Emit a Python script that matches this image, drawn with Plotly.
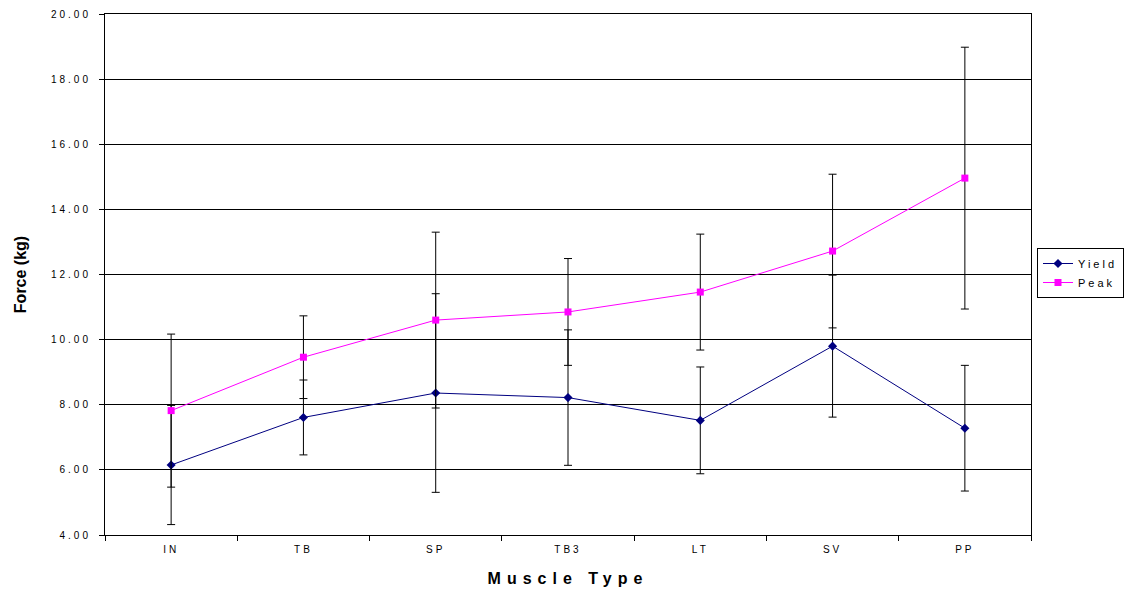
import plotly.graph_objects as go

# Muscle categories and measured forces (kg)
muscles = ["IN", "TB", "SP", "TB3", "LT", "SV", "PP"]
yield_force = [6.15, 7.61, 8.36, 8.22, 7.52, 9.80, 7.28]
yield_err = [1.83, 1.15, 3.05, 2.08, 1.64, 2.18, 1.93]
peak_force = [7.82, 9.46, 10.60, 10.85, 11.46, 12.72, 14.96]
peak_err = [2.35, 1.27, 2.70, 1.64, 1.78, 2.36, 4.02]

y_ticks = [4, 6, 8, 10, 12, 14, 16, 18, 20]

FONT = "Liberation Sans, Arial, sans-serif"


def spaced(text, px=3):
    return f'<span style="letter-spacing:{px}px">{text}</span>'


fig = go.Figure()

fig.add_trace(go.Scatter(
    x=muscles, y=yield_force, name=spaced("Yield"), mode="lines+markers",
    line=dict(color="#000080", width=1),
    marker=dict(symbol="diamond", size=7, color="#000080"),
    error_y=dict(type="data", array=yield_err, visible=True,
                 color="black", thickness=1, width=4),
))

fig.add_trace(go.Scatter(
    x=muscles, y=peak_force, name=spaced("Peak"), mode="lines+markers",
    line=dict(color="#FF00FF", width=1),
    marker=dict(symbol="square", size=7, color="#FF00FF"),
    error_y=dict(type="data", array=peak_err, visible=True,
                 color="black", thickness=1, width=4),
))

fig.update_layout(
    width=1131, height=592,
    margin=dict(l=105, r=100, t=14, b=57),
    paper_bgcolor="white", plot_bgcolor="white",
    font=dict(family=FONT, color="black", size=10),
    showlegend=True,
    legend=dict(
        xref="container", yref="container",
        x=1037 / 1131, y=1 - 273 / 592, xanchor="left", yanchor="middle",
        bordercolor="black", borderwidth=1, bgcolor="white",
        font=dict(size=11, family=FONT),
        tracegroupgap=0, itemwidth=30,
    ),
)

fig.update_xaxes(
    type="category",
    automargin=False,
    tickson="boundaries",
    ticks="outside", ticklen=5, tickcolor="black",
    showline=True, linecolor="black", linewidth=1, mirror=True,
    showgrid=False,
    tickvals=muscles,
    ticktext=[spaced(m) for m in muscles],
    tickfont=dict(size=10, family=FONT),
    ticklabelstandoff=5,
    title=dict(text="<b>" + spaced("Muscle Type", 6) + "</b>",
               font=dict(size=16, family=FONT), standoff=18),
    range=[-0.5, 6.5],
)

fig.update_yaxes(
    range=[4, 20],
    automargin=False,
    tickvals=y_ticks,
    ticktext=[spaced(f"{v:.2f}") for v in y_ticks],
    ticks="outside", ticklen=5, tickcolor="black",
    showline=True, linecolor="black", linewidth=1, mirror=True,
    showgrid=True, gridcolor="black", gridwidth=1,
    zeroline=False,
    tickfont=dict(size=10, family=FONT),
    ticklabelstandoff=6,
    title=dict(text="<b>Force (kg)</b>", font=dict(size=16, family=FONT),
               standoff=20),
)

fig.write_html("out.html")
